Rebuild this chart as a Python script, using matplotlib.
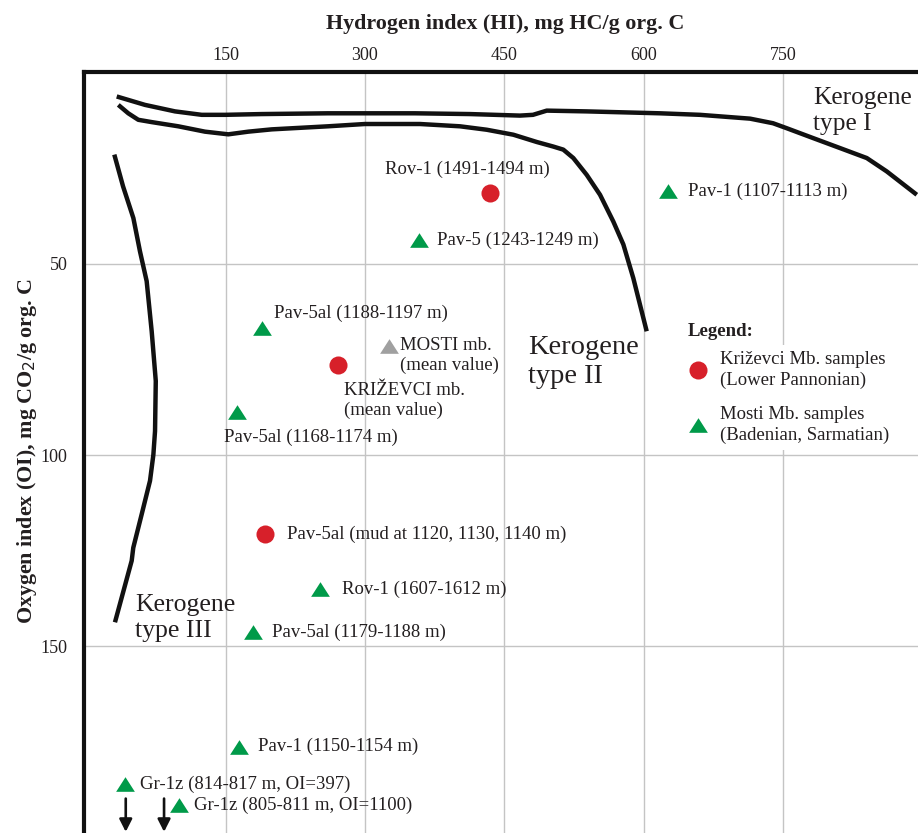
import matplotlib
matplotlib.use("Agg")
import matplotlib.pyplot as plt
from matplotlib.lines import Line2D

# ---------------- data ----------------
# Kerogen type boundary curves (HI, OI)
type1_hi = [33.0, 63.4, 95.7, 124.4, 149.5, 188.9, 260.2, 353.8, 413, 466.7, 480.7, 495.5, 538.5,
            617.3, 660.4, 714.2, 738.9, 753.6, 782.2, 811.0, 839.7, 861.2, 893.5]
type1_oi = [6.2, 8.4, 10.1, 11.0, 11.0, 10.8, 10.6, 10.6, 10.8, 11.2, 11.0, 9.9, 10.1,
            10.6, 11.0, 12.0, 13.2, 14.5, 17.1, 19.7, 22.3, 25.8, 31.9]

type2_hi = [34.7, 45.4, 56.2, 70.6, 99.2, 127.9, 153.0, 174.5, 199.7, 260.2, 300.0, 359.2, 402.2,
            431.0, 459.6, 484.7, 502.6, 513.3, 524.1, 538.5, 552.8, 567.1, 577.9, 588.6, 603.0]
type2_oi = [8.4, 10.6, 12.3, 12.9, 14.0, 15.4, 16.1, 15.4, 14.8, 14.0, 13.4, 13.4, 14.0,
            14.9, 16.2, 18.1, 19.3, 20.1, 22.3, 26.7, 31.9, 38.9, 44.9, 53.7, 67.6]

type3_hi = [30.4, 39.8, 50.9, 58.0, 65.2, 70.6, 75.0, 74.2, 72.4, 68.8, 59.9, 50.8, 49.1, 31.1]
type3_oi = [21.4, 29.7, 38.0, 46.7, 54.5, 67.6, 80.6, 93.7, 99.9, 106.7, 115.4, 124.2, 127.6, 143.7]

# Križevci Mb. samples (red circles)
kriz_labels = ["Rov-1 (1491-1494 m)", "Pav-5al (mud at 1120, 1130, 1140 m)"]
kriz_hi = [434.5, 192.5]
kriz_oi = [31.5, 120.6]

# Mosti Mb. samples (green triangles)
mosti_labels = ["Pav-1 (1107-1113 m)", "Pav-5 (1243-1249 m)", "Pav-5al (1188-1197 m)",
                "Pav-5al (1168-1174 m)", "Rov-1 (1607-1612 m)", "Pav-5al (1179-1188 m)",
                "Pav-1 (1150-1154 m)", "Gr-1z (814-817 m, OI=397)", "Gr-1z (805-811 m, OI=1100)"]
mosti_hi = [626, 358, 189, 162, 251.6, 179.6, 164.5, 42, 100]
mosti_oi = [31, 43.8, 66.8, 88.7, 135, 146.2, 176.2, 186.1, 191.6]

# mean values
kriz_mean = (271, 76.4)
mosti_mean = (326, 71.5)

# off-scale arrows (Gr-1z samples)
arrow_hi = [42.7, 83.9]
arrow_oi_start = 189.8
arrow_oi_end = 198.5

x_ticks = [150, 300, 450, 600, 750]
y_ticks = [50, 100, 150]

legend_labels = ['Križevci Mb. samples\n(Lower Pannonian)',
                 'Mosti Mb. samples\n(Badenian, Sarmatian)']

# ---------------- style ----------------
plt.rcParams['font.family'] = ['Liberation Serif', 'DejaVu Serif']
TXT = '#231f20'
RED = '#d7202a'
GREEN = '#009a49'
GRAY = '#a0a0a0'
tri = [(-1, -0.78), (1, -0.78), (0, 0.78)]

fig = plt.figure(figsize=(9.18, 8.33), dpi=100)
ax = fig.add_axes([84/918, 0, 1 - 84/918, 1 - 72/833])
ax.set_xlim(-2.2, 894.8)
ax.set_ylim(198.8, -0.2)

for s in ['right', 'bottom']:
    ax.spines[s].set_visible(False)
for s in ['left', 'top']:
    ax.spines[s].set_linewidth(3.0)
    ax.spines[s].set_color('#111111')

ax.xaxis.tick_top()
ax.xaxis.set_label_position('top')
ax.set_xticks(x_ticks)
ax.set_yticks(y_ticks)
ax.tick_params(axis='both', length=0, labelsize=13, labelcolor=TXT)
ax.tick_params(axis='x', pad=6)
ax.tick_params(axis='y', pad=12)
ax.grid(True, color='#c4c4c4', linewidth=1.0, zorder=0)
ax.set_axisbelow(True)

ax.set_xlabel('Hydrogen index (HI), mg HC/g org. C', fontsize=15.8, fontweight='bold', color=TXT)
ax.xaxis.set_label_coords((505 - 84) / 834, 1 + (72 - 29) / 761)
ax.set_ylabel('Oxygen index (OI), mg CO$_2$/g org. C', fontsize=15.8, fontweight='bold', color=TXT)
ax.yaxis.set_label_coords(-(84 - 39) / 834, (833 - 451) / 761)

# curves
for hx, oy in [(type1_hi, type1_oi), (type2_hi, type2_oi), (type3_hi, type3_oi)]:
    ax.plot(hx, oy, color='#111111', lw=3.2, solid_capstyle='butt', solid_joinstyle='round', zorder=2)

# markers
ax.plot(kriz_hi, kriz_oi, 'o', ms=13, color=RED, mec='none', zorder=4)
ax.plot(mosti_hi, mosti_oi, linestyle='none', marker=tri, ms=13.5, color=GREEN, mec='none', zorder=4)
ax.plot([kriz_mean[0]], [kriz_mean[1]], 'o', ms=13, color=RED, mec='none', zorder=4)
ax.plot([mosti_mean[0]], [mosti_mean[1]], linestyle='none', marker=tri, ms=13.5, color=GRAY, mec='none', zorder=4)

fs = 13.5
kriz_offsets = [(-75.5, 17.5), (16, 0)]
for lab, hx, oy, (dx, dy) in zip(kriz_labels, kriz_hi, kriz_oi, kriz_offsets):
    ax.annotate(lab, (hx, oy), xytext=(dx, dy), textcoords='offset points',
                ha='left', va='center', fontsize=fs, color=TXT)

mosti_offsets = [(14, 0), (13, 0), (9, 11), (-9, -18), (16, 0), (14, 0), (14, 0), (11, 0), (11, 0)]
for lab, hx, oy, (dx, dy) in zip(mosti_labels, mosti_hi, mosti_oi, mosti_offsets):
    ax.annotate(lab, (hx, oy), xytext=(dx, dy), textcoords='offset points',
                ha='left', va='center', fontsize=fs, color=TXT)

ax.annotate('MOSTI mb.\n(mean value)', mosti_mean, xytext=(8, -6.5), textcoords='offset points',
            ha='left', va='center', fontsize=fs, color=TXT, linespacing=1.2)
ax.annotate('KRIŽEVCI mb.\n(mean value)', kriz_mean, xytext=(4, -25.5), textcoords='offset points',
            ha='left', va='center', fontsize=fs, color=TXT, linespacing=1.2)

# arrows
for hx in arrow_hi:
    ax.annotate('', xy=(hx, arrow_oi_end), xytext=(hx, arrow_oi_start),
                arrowprops=dict(arrowstyle='-|>,head_width=0.38,head_length=0.75',
                                color='#111111', lw=1.9, shrinkA=0, shrinkB=0),
                annotation_clip=False)

# kerogen type labels
ax.text(782, 3.8, 'Kerogene\ntype I', fontsize=18.3, color=TXT, ha='left', va='top', linespacing=1.22)
ax.text(475, 68.5, 'Kerogene\ntype II', fontsize=20.5, color=TXT, ha='left', va='top', linespacing=1.24)
ax.text(52.6, 136.3, 'Kerogene\ntype III', fontsize=18.5, color=TXT, ha='left', va='top', linespacing=1.26)

# legend
handles = [
    Line2D([], [], linestyle='none', marker='o', ms=13, color=RED, mec='none'),
    Line2D([], [], linestyle='none', marker=tri, ms=13.5, color=GREEN, mec='none'),
]
leg = ax.legend(handles, legend_labels, loc='upper left',
                bbox_to_anchor=((682 - 84) / 834, 1 - (345 - 72) / 761),
                frameon=True, facecolor='white', edgecolor='none', framealpha=1,
                fontsize=13.5, handletextpad=0.6, handlelength=1.1, labelspacing=0.95,
                borderpad=0.3, borderaxespad=0)
for t in leg.get_texts():
    t.set_color(TXT)
    t.set_linespacing(1.27)
fig.text(688 / 918, 1 - 331 / 833, 'Legend:', fontsize=13.5, fontweight='bold', color=TXT,
         ha='left', va='center')

fig.savefig('out.png', dpi=100, facecolor='white')
